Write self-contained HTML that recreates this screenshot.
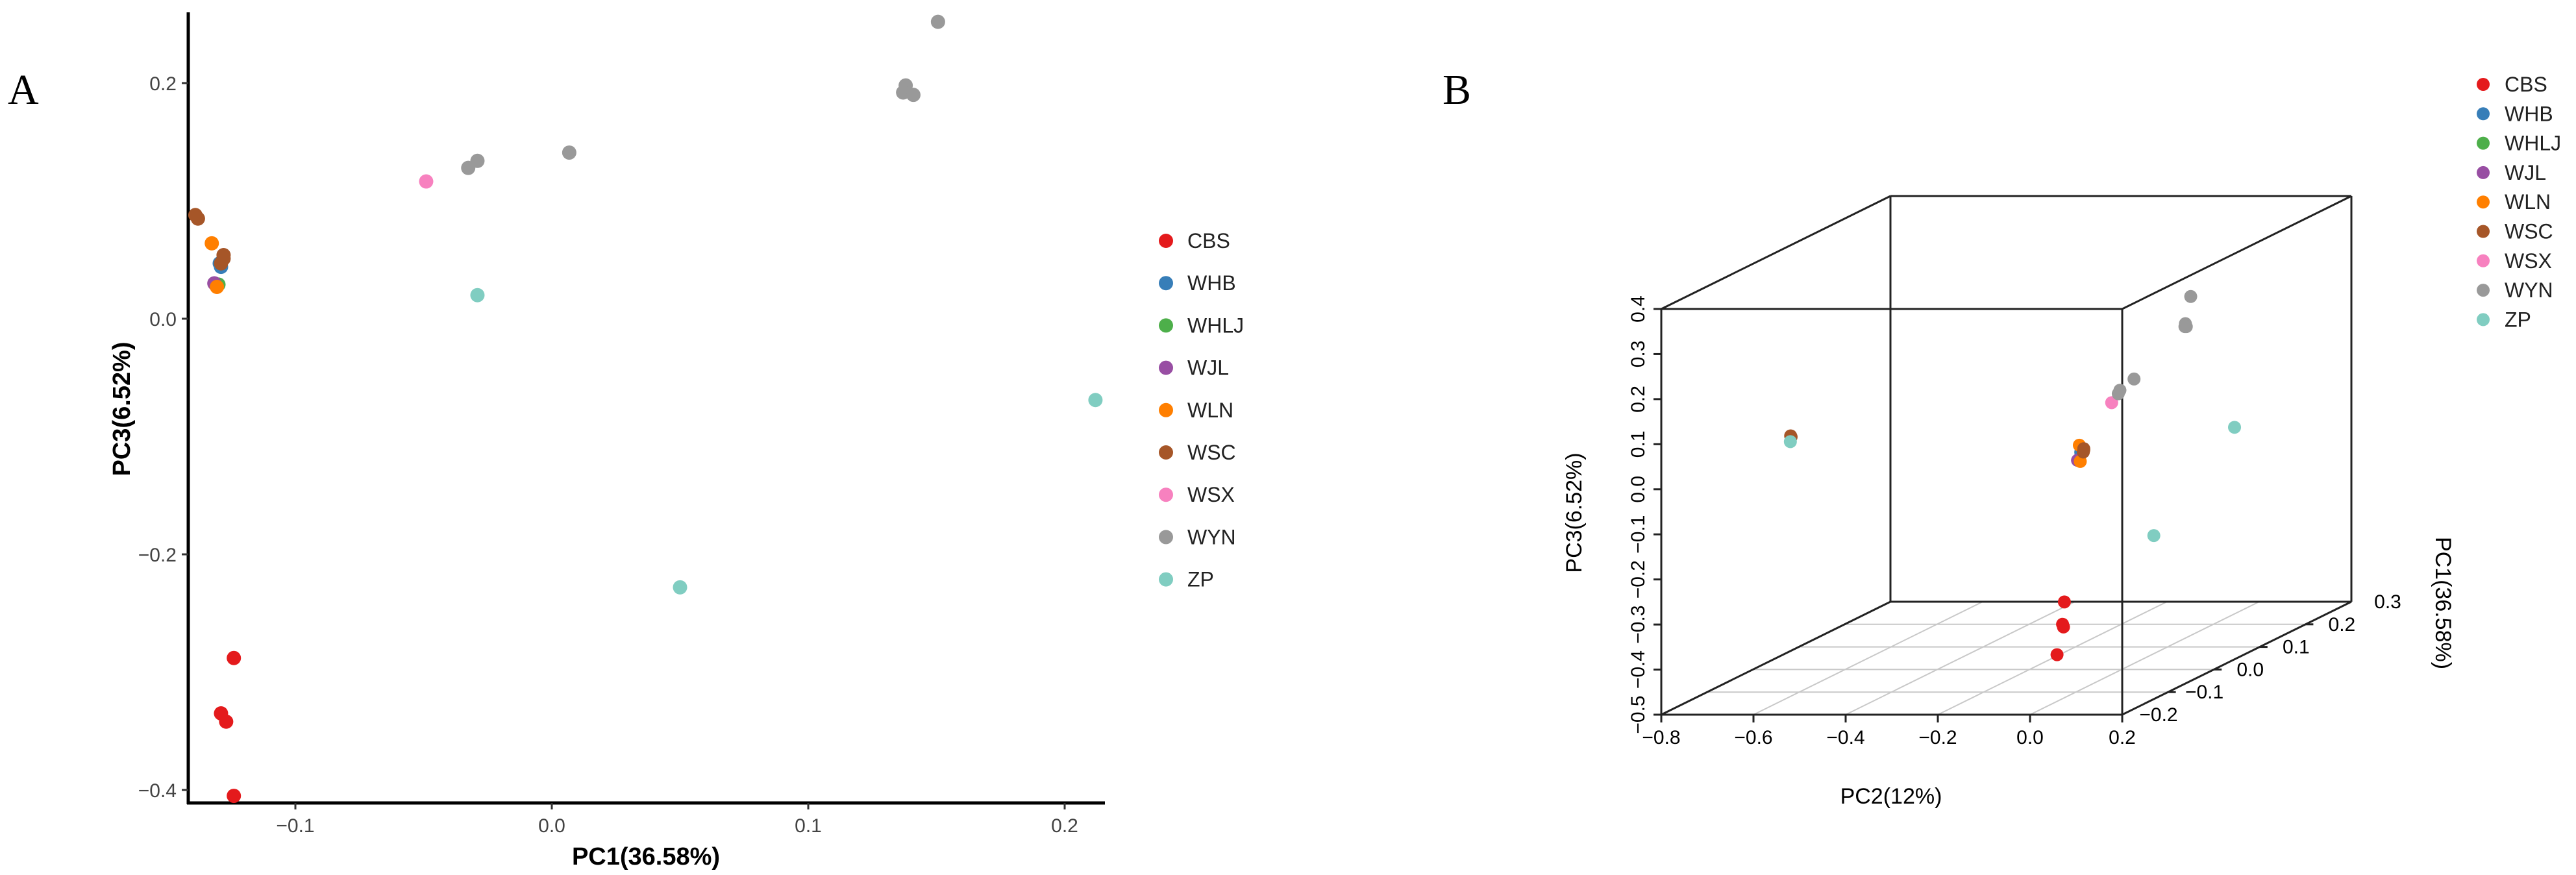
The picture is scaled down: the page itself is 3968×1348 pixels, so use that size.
<!DOCTYPE html>
<html><head><meta charset="utf-8"><style>
body{margin:0;background:#fff}
svg{display:block;font-family:"Liberation Sans",sans-serif}
</style></head><body>
<svg id="s" width="3968" height="1348" viewBox="0 0 3968 1348">
<text x="12" y="160" font-family="Liberation Serif,serif" font-size="66">A</text>
<text x="2222" y="160" font-family="Liberation Serif,serif" font-size="66">B</text>
<g id="ga"></g>
<g id="gb"></g>
</svg>
<script>
const groups=["CBS","WHB","WHLJ","WJL","WLN","WSC","WSX","WYN","ZP"];
const colors=["#e41a1c","#377eb8","#4daf4a","#984ea3","#ff7f00","#a65628","#f781bf","#999999","#80cdc1"];
// PC1, PC2, PC3 per group
const pc1={CBS:[-0.124,-0.129,-0.127,-0.124],WHB:[-0.129,-0.1295],WHLJ:[-0.130],WJL:[-0.1316],WLN:[-0.1326,-0.1306],WSC:[-0.139,-0.138,-0.128,-0.129,-0.128],WSX:[-0.049],WYN:[0.1506,0.138,0.137,0.141,-0.029,-0.0326,0.0068],ZP:[-0.029,0.212,0.050]};
const pc3={CBS:[-0.288,-0.335,-0.342,-0.405],WHB:[0.044,0.047],WHLJ:[0.029],WJL:[0.030],WLN:[0.064,0.027],WSC:[0.088,0.085,0.054,0.047,0.051],WSX:[0.1165],WYN:[0.252,0.198,0.192,0.190,0.134,0.128,0.141],ZP:[0.020,-0.069,-0.228]};
const pc2={CBS:[-0.001,0.0,0.0,-0.017],WHB:[0.04,0.04],WHLJ:[0.038],WJL:[0.035],WLN:[0.04,0.04],WSC:[-0.58,-0.58,0.045,0.045,0.045],WSX:[0.027],WYN:[0.0,0.001,0.001,0.0,0.025,0.025,0.02],ZP:[-0.69,0.034,0.02]};
const xTicksA=[-0.1,0.0,0.1,0.2], yTicksA=[0.2,0.0,-0.2,-0.4];
const pc2Ticks=[-0.8,-0.6,-0.4,-0.2,0.0,0.2], pc3Ticks=[-0.5,-0.4,-0.3,-0.2,-0.1,0.0,0.1,0.2,0.3,0.4], pc1Ticks=[-0.2,-0.1,0.0,0.1,0.2,0.3];
const NS="http://www.w3.org/2000/svg";
function mk(p,t,a,txt){const e=document.createElementNS(NS,t);for(const k in a)e.setAttribute(k,a[k]);if(txt!==undefined)e.textContent=txt;p.appendChild(e);return e;}
const fmt=v=>(v<0?"\u2212":"")+Math.abs(v).toFixed(1);
// Panel A
const ga=document.getElementById('ga');
const xA=v=>850+v*3950, yA=v=>491-v*1815;
let e;
e=mk(ga,'line',{x1:290,y1:19,x2:290,y2:1239,stroke:'#000','stroke-width':5});

e=mk(ga,'line',{x1:288,y1:1237,x2:1702,y2:1237,stroke:'#000','stroke-width':5});

xTicksA.forEach(v=>{mk(ga,'line',{x1:xA(v),y1:1237,x2:xA(v),y2:1247,stroke:'#333','stroke-width':3});
e=mk(ga,'text',{x:xA(v),y:1282,'text-anchor':'middle','font-size':30,fill:'#444'},fmt(v));
});
yTicksA.forEach(v=>{mk(ga,'line',{x1:280,y1:yA(v),x2:290,y2:yA(v),stroke:'#333','stroke-width':3});
e=mk(ga,'text',{x:272,y:yA(v)+11,'text-anchor':'end','font-size':30,fill:'#444'},fmt(v));
});
e=mk(ga,'text',{x:995,y:1332,'text-anchor':'middle','font-size':38,'font-weight':'bold'},'PC1(36.58%)');

e=mk(ga,'text',{x:0,y:0,'text-anchor':'middle','font-size':38,'font-weight':'bold',transform:'translate(200,630) rotate(-90)'},'PC3(6.52%)');

groups.forEach((g,i)=>{pc1[g].forEach((v,j)=>{
e=mk(ga,'circle',{cx:xA(v),cy:yA(pc3[g][j]),r:11,fill:colors[i]});
});
e=mk(ga,'circle',{cx:1796,cy:371+i*65.2,r:11,fill:colors[i]});

e=mk(ga,'text',{x:1829,y:371+i*65.2+11,'font-size':32,fill:'#222'},g);
});
// Panel B
const gb=document.getElementById('gb');
function P(a,b,c){return [2559+(b+0.8)*710+(a+0.2)/0.5*353, 1101-(c+0.5)/0.9*625-(a+0.2)/0.5*174];}
const L=(p,q,st,w)=>mk(gb,'line',{x1:p[0],y1:p[1],x2:q[0],y2:q[1],stroke:st,'stroke-width':w});
// floor grid
pc1Ticks.slice(1,5).forEach(a=>{e=L(P(a,-0.8,-0.5),P(a,0.2,-0.5),'#c8c8c8',2);});
pc2Ticks.slice(1,5).forEach(b=>{e=L(P(-0.2,b,-0.5),P(0.3,b,-0.5),'#c8c8c8',2);});
// box
const c=[];[-0.2,0.3].forEach(a=>[-0.8,0.2].forEach(b=>[-0.5,0.4].forEach(z=>c.push([a,b,z]))));
const edges=[[[-0.2,-0.8,-0.5],[-0.2,0.2,-0.5]],[[-0.2,-0.8,0.4],[-0.2,0.2,0.4]],[[-0.2,-0.8,-0.5],[-0.2,-0.8,0.4]],[[-0.2,0.2,-0.5],[-0.2,0.2,0.4]],
[[0.3,-0.8,-0.5],[0.3,0.2,-0.5]],[[0.3,-0.8,0.4],[0.3,0.2,0.4]],[[0.3,-0.8,-0.5],[0.3,-0.8,0.4]],[[0.3,0.2,-0.5],[0.3,0.2,0.4]],
[[-0.2,-0.8,-0.5],[0.3,-0.8,-0.5]],[[-0.2,0.2,-0.5],[0.3,0.2,-0.5]],[[-0.2,-0.8,0.4],[0.3,-0.8,0.4]],[[-0.2,0.2,0.4],[0.3,0.2,0.4]]];
edges.forEach(([p,q])=>{e=L(P(...p),P(...q),'#222',3);});
pc2Ticks.forEach(b=>{const p=P(-0.2,b,-0.5);L(p,[p[0],p[1]+12],'#222',3);
e=mk(gb,'text',{x:p[0],y:1146,'text-anchor':'middle','font-size':30},fmt(b));
});
pc3Ticks.forEach(z=>{const p=P(-0.2,-0.8,z);L(p,[p[0]-12,p[1]],'#222',3);
e=mk(gb,'text',{x:0,y:0,'text-anchor':'middle','font-size':30,transform:`translate(${p[0]-26},${p[1]}) rotate(-90)`},fmt(z));
});
pc1Ticks.forEach(a=>{const p=P(a,0.2,-0.5);if(a>-0.2&&a<0.3)L(p,[p[0]+12,p[1]],'#222',3);
e=mk(gb,'text',{x:p[0]+56,y:p[1]+10,'text-anchor':'middle','font-size':30},fmt(a));
});
e=mk(gb,'text',{x:2913,y:1238,'text-anchor':'middle','font-size':34},'PC2(12%)');

e=mk(gb,'text',{x:0,y:0,'text-anchor':'middle','font-size':34,transform:'translate(2436,790) rotate(-90)'},'PC3(6.52%)');

e=mk(gb,'text',{x:0,y:0,'text-anchor':'middle','font-size':34,transform:'translate(3752,929) rotate(90)'},'PC1(36.58%)');

groups.forEach((g,i)=>{pc1[g].forEach((v,j)=>{const p=P(v,pc2[g][j],pc3[g][j]);
e=mk(gb,'circle',{cx:p[0],cy:p[1],r:10,fill:colors[i]});
});
e=mk(gb,'circle',{cx:3825,cy:130+i*45.3,r:10,fill:colors[i]});

e=mk(gb,'text',{x:3858,y:130+i*45.3+11,'font-size':32,fill:'#222'},g);
});
</script>
</body></html>
